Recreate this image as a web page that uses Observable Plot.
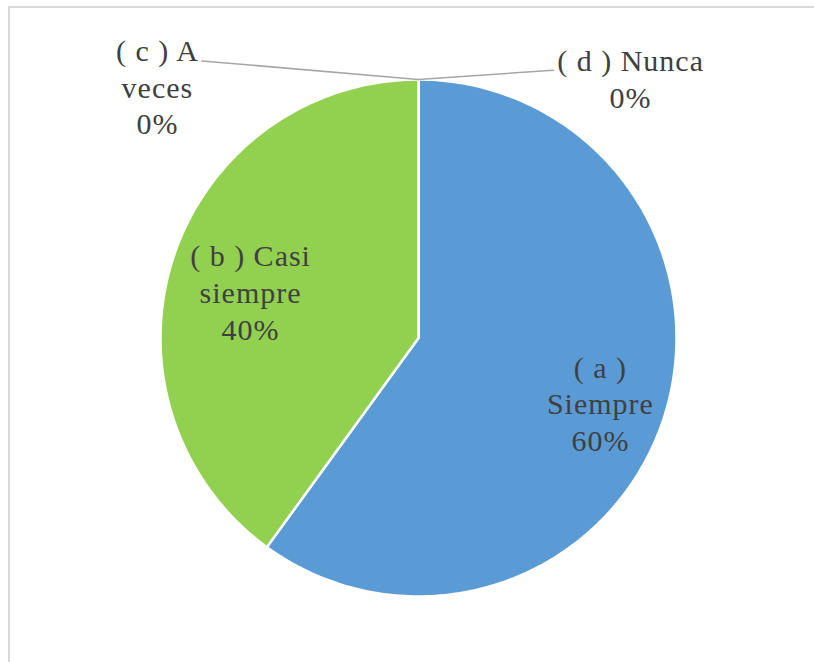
<!DOCTYPE html>
<html>
<head>
<meta charset="utf-8">
<script src="https://cdn.jsdelivr.net/npm/d3@7"></script>
<script src="https://cdn.jsdelivr.net/npm/@observablehq/plot@0.6"></script>
<style>
  html, body { margin: 0; padding: 0; background: #ffffff; overflow: hidden; font-family: "Liberation Serif"; }
  #wrap { position: relative; width: 814px; height: 662px; overflow: hidden; }
  #frame {
    position: absolute; left: 8px; top: 6px; width: 900px; height: 800px;
    border: 2px solid #d9d9d9; box-sizing: border-box;
  }
  #chart { position: absolute; left: 0; top: 0; }
  #fontwarm { position: absolute; left: 0; top: 0; color: #ffffff; font-size: 30px; opacity: 0.01; }
</style>
</head>
<body>
<div id="wrap">
  <div id="frame"></div>
  <span id="fontwarm">Siempre</span>
  <div id="chart"></div>
</div>
<script>
// Survey answers and their shares (percent)
const categories = ["( a ) Siempre", "( b ) Casi siempre", "( c ) A veces", "( d ) Nunca"];
const percents = [60, 40, 0, 0];
const sliceColors = ["#5B9BD5", "#92D050", "#A5A5A5", "#FFC000"];

// Label wording split over lines, as the labels wrap
const labelLines = [
  ["( a )", "Siempre"],
  ["( b ) Casi", "siempre"],
  ["( c ) A", "veces"],
  ["( d ) Nunca"]
];

// Label placement in pie-radius units (centre of the pie = 0,0; y up)
const labelLayout = [
  {x: 0.705, y: -0.25},
  {x: -0.651, y: 0.18},
  {x: -1.012, y: 0.976},
  {x: 0.822, y: 1.008}
];
// Leader-line end next to the outside labels (radius units)
const leaderEnds = [null, null, {x: -0.840, y: 1.072}, {x: 0.523, y: 1.036}];

const records = categories.map((c, i) => ({category: c, value: percents[i]}));
const arcs = d3.pie().sort(null).value(d => d.value).startAngle(0).endAngle(2 * Math.PI)(records);

// Polygon outline of each slice, sampled along its arc
const slicePoints = [];
for (const a of arcs) {
  if (a.endAngle - a.startAngle <= 0) continue;
  const n = Math.max(2, Math.ceil((a.endAngle - a.startAngle) / (2 * Math.PI) * 360));
  slicePoints.push({category: a.data.category, x: 0, y: 0});
  for (let k = 0; k <= n; k++) {
    const t = a.startAngle + (a.endAngle - a.startAngle) * k / n;
    slicePoints.push({category: a.data.category, x: Math.sin(t), y: Math.cos(t)});
  }
}

// Labels: category text plus percent
const labels = arcs.map((a, i) => ({
  text: [...labelLines[i], `${a.data.value}%`].join("\n"),
  x: labelLayout[i].x,
  y: labelLayout[i].y
}));

// Leader lines from the slice edge (zero-width slices sit at the top) to the label
const leaders = [];
arcs.forEach((a, i) => {
  if (!leaderEnds[i]) return;
  const mid = (a.startAngle + a.endAngle) / 2;
  leaders.push({id: i, x: Math.sin(mid), y: Math.cos(mid)});
  leaders.push({id: i, x: leaderEnds[i].x, y: leaderEnds[i].y});
});

const chart = Plot.plot({
  width: 814,
  height: 662,
  marginLeft: 160,
  marginRight: 138,
  marginTop: 79,
  marginBottom: 66,
  x: {domain: [-1, 1], axis: null},
  y: {domain: [-1, 1], axis: null},
  color: {domain: categories, range: sliceColors},
  style: {background: "transparent", overflow: "visible"},
  marks: [
    Plot.line(slicePoints, {
      x: "x", y: "y", z: "category", fill: "category",
      stroke: "white", strokeWidth: 2.5, strokeLinejoin: "round", curve: "linear-closed"
    }),
    Plot.line(leaders, {x: "x", y: "y", z: "id", stroke: "#a6a6a6", strokeWidth: 1.5}),
    Plot.text(labels, {
      x: "x", y: "y", text: "text",
      fontSize: 30, lineHeight: 1.23, fill: "#404040",
      fontFamily: "Liberation Serif",
      textAnchor: "middle", lineAnchor: "middle"
    })
  ]
});

// Slightly looser tracking on the labels
const textGroup = chart.querySelector("g[aria-label=text]");
if (textGroup) textGroup.setAttribute("letter-spacing", "1");

document.getElementById("chart").appendChild(chart);
</script>
</body>
</html>
